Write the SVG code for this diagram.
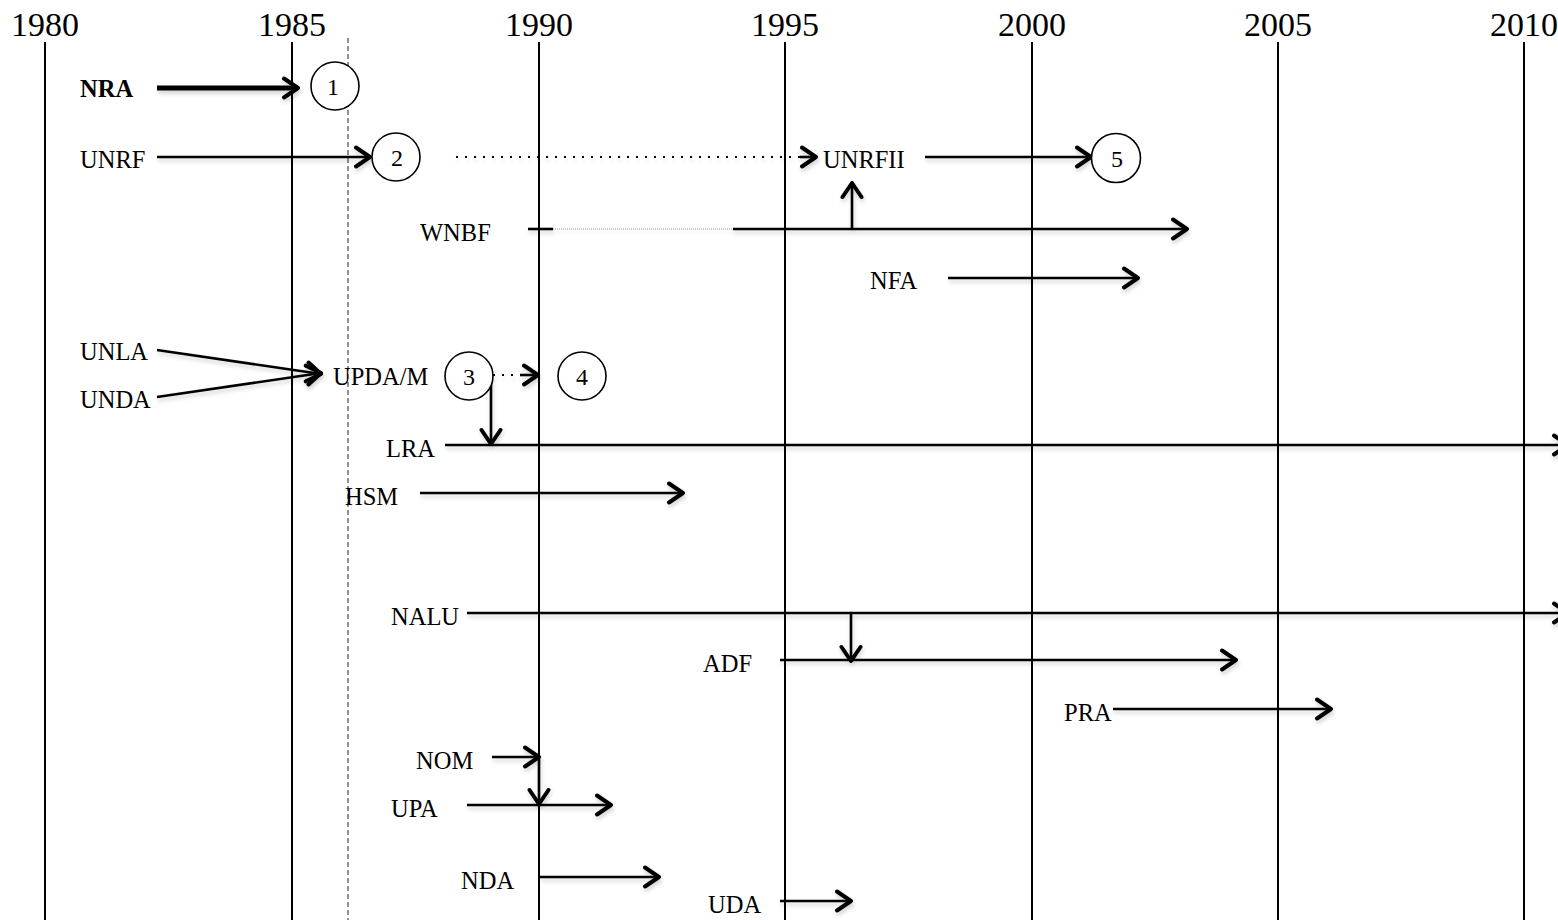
<svg xmlns="http://www.w3.org/2000/svg" width="1558" height="920" viewBox="0 0 1558 920">
<style>
text{font-family:"Liberation Serif","DejaVu Serif",serif;fill:#000}
.yr{font-size:34px;text-anchor:middle}
.lb{font-size:24.5px}
.num{font-size:24px;text-anchor:middle}
.grid{stroke:#000;stroke-width:2}
.ln{stroke:#000;stroke-width:2.6;fill:none}
.dot{stroke:#000;stroke-width:2;stroke-dasharray:2 7;fill:none}
.circ{fill:#fff;stroke:#000;stroke-width:1.6}
</style>
<defs>
<marker id="arr" viewBox="0 0 20 24" refX="17" refY="12" markerWidth="20" markerHeight="24" markerUnits="userSpaceOnUse" orient="auto">
<path d="M3,2.5 L17,12 L3,21.5" fill="none" stroke="#000" stroke-width="4" stroke-linecap="round" stroke-linejoin="round"/>
</marker>
<filter id="sh" x="-5%" y="-50%" width="110%" height="300%">
<feDropShadow dx="1" dy="3" stdDeviation="2" flood-color="#000" flood-opacity="0.18"/>
</filter>
</defs>
<rect width="1558" height="920" fill="#fff"/>
<g id="axis">
<text class="yr" x="45" y="36">1980</text>
<text class="yr" x="292" y="36">1985</text>
<text class="yr" x="539" y="36">1990</text>
<text class="yr" x="785" y="36">1995</text>
<text class="yr" x="1032" y="36">2000</text>
<text class="yr" x="1278" y="36">2005</text>
<text class="yr" x="1524" y="36">2010</text>
<line class="grid" x1="45" y1="42" x2="45" y2="920"/>
<line class="grid" x1="292" y1="42" x2="292" y2="920"/>
<line class="grid" x1="539" y1="42" x2="539" y2="920"/>
<line class="grid" x1="785" y1="42" x2="785" y2="920"/>
<line class="grid" x1="1032" y1="42" x2="1032" y2="920"/>
<line class="grid" x1="1278" y1="42" x2="1278" y2="920"/>
<line class="grid" x1="1524" y1="42" x2="1524" y2="920"/>
<line x1="348" y1="38" x2="348" y2="920" stroke="#555" stroke-width="1.3" stroke-dasharray="5 3"/>
</g>
<g id="connectors" filter="url(#sh)">
<line x1="157" y1="88" x2="298" y2="88" stroke="#000" stroke-width="5" marker-end="url(#arr)"/>
<line class="ln" x1="157" y1="157" x2="370" y2="157" marker-end="url(#arr)"/>
<line class="dot" x1="456" y1="157" x2="810" y2="157"/>
<line class="ln" x1="800" y1="157" x2="816" y2="157" stroke-width="0" marker-end="url(#arr)"/>
<line class="ln" x1="925" y1="157" x2="1091" y2="157" marker-end="url(#arr)"/>
<line class="ln" x1="852" y1="228" x2="852" y2="183" marker-end="url(#arr)"/>
<line class="ln" x1="528" y1="229" x2="553" y2="229"/>
<line x1="553" y1="229" x2="733" y2="229" stroke="#999" stroke-width="1.2" stroke-dasharray="1 1"/>
<line class="ln" x1="733" y1="229" x2="1187" y2="229" marker-end="url(#arr)"/>
<line class="ln" x1="948" y1="278" x2="1138" y2="278" marker-end="url(#arr)"/>
<line class="ln" x1="157" y1="350" x2="321" y2="374" marker-end="url(#arr)"/>
<line class="ln" x1="157" y1="397" x2="321" y2="373" marker-end="url(#arr)"/>
<line class="dot" x1="493" y1="375" x2="528" y2="375"/>
<line class="ln" x1="520" y1="375" x2="538" y2="375" stroke-width="0" marker-end="url(#arr)"/>
<line class="ln" x1="491" y1="375" x2="491" y2="444" marker-end="url(#arr)"/>
<line class="ln" x1="445" y1="445" x2="1568" y2="445" marker-end="url(#arr)"/>
<line class="ln" x1="420" y1="493" x2="683" y2="493" marker-end="url(#arr)"/>
<line class="ln" x1="467" y1="613" x2="1568" y2="613" marker-end="url(#arr)"/>
<line class="ln" x1="851" y1="613" x2="851" y2="661" marker-end="url(#arr)"/>
<line class="ln" x1="780" y1="660" x2="1236" y2="660" marker-end="url(#arr)"/>
<line class="ln" x1="1113" y1="709" x2="1331" y2="709" marker-end="url(#arr)"/>
<line class="ln" x1="492" y1="757" x2="539" y2="757" marker-end="url(#arr)"/>
<line class="ln" x1="539" y1="757" x2="539" y2="804" marker-end="url(#arr)"/>
<line class="ln" x1="467" y1="805" x2="611" y2="805" marker-end="url(#arr)"/>
<line class="ln" x1="540" y1="877" x2="659" y2="877" marker-end="url(#arr)"/>
<line class="ln" x1="780" y1="901" x2="851" y2="901" marker-end="url(#arr)"/>
</g>
<g id="n1"><circle class="circ" cx="335" cy="86" r="24"/><text class="num" x="333" y="95">1</text></g>
<g id="n2"><circle class="circ" cx="396" cy="157" r="24"/><text class="num" x="397" y="166">2</text></g>
<g id="n3"><circle class="circ" cx="469" cy="376" r="24"/><text class="num" x="469" y="385">3</text></g>
<g id="n4"><circle class="circ" cx="582" cy="376" r="24"/><text class="num" x="582" y="385">4</text></g>
<g id="n5"><circle class="circ" cx="1116" cy="158" r="24.5"/><text class="num" x="1117" y="167">5</text></g>
<g id="NRA"><text class="lb" x="80" y="97" font-weight="bold">NRA</text></g>
<g id="UNRF"><text class="lb" x="80" y="168">UNRF</text></g>
<g id="UNRFII"><text class="lb" x="823" y="168">UNRFII</text></g>
<g id="WNBF"><text class="lb" x="420" y="241">WNBF</text></g>
<g id="NFA"><text class="lb" x="870" y="289">NFA</text></g>
<g id="UNLA"><text class="lb" x="80" y="360">UNLA</text></g>
<g id="UNDA"><text class="lb" x="80" y="408">UNDA</text></g>
<g id="UPDAM"><text class="lb" x="333" y="385">UPDA/M</text></g>
<g id="LRA"><text class="lb" x="386" y="457">LRA</text></g>
<g id="HSM"><text class="lb" x="345" y="505">HSM</text></g>
<g id="NALU"><text class="lb" x="391" y="625">NALU</text></g>
<g id="ADF"><text class="lb" x="703" y="672">ADF</text></g>
<g id="PRA"><text class="lb" x="1064" y="721">PRA</text></g>
<g id="NOM"><text class="lb" x="416" y="769">NOM</text></g>
<g id="UPA"><text class="lb" x="391" y="817">UPA</text></g>
<g id="NDA"><text class="lb" x="461" y="889">NDA</text></g>
<g id="UDA"><text class="lb" x="708" y="913">UDA</text></g>
</svg>
